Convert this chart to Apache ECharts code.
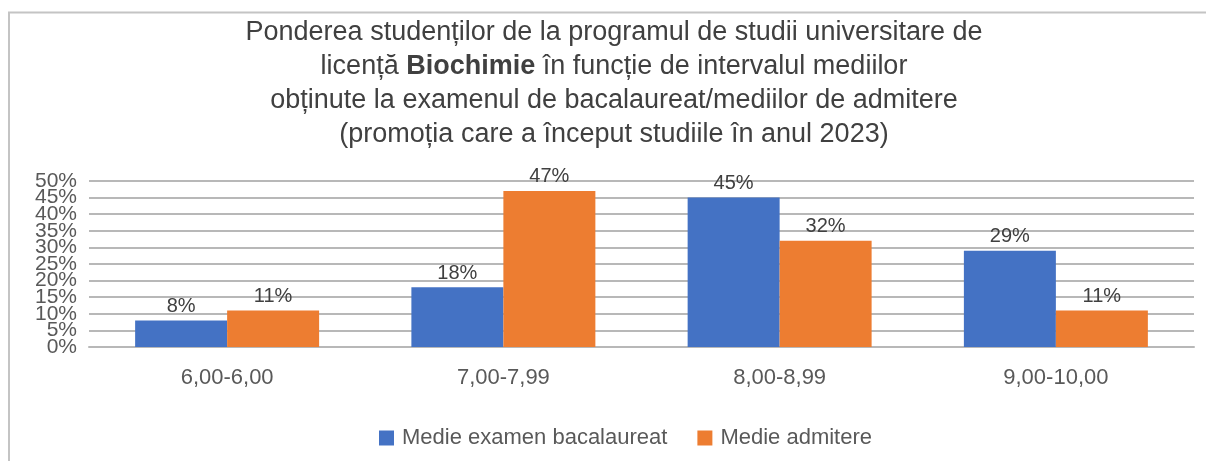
<!DOCTYPE html>
<html>
<head>
<meta charset="utf-8">
<script src="https://cdn.jsdelivr.net/npm/echarts@6/dist/echarts.min.js"></script>
<style>html,body{margin:0;padding:0;background:#fff}#c{width:1206px;height:461px}</style>
</head>
<body>
<div id="c"></div>
<script>
const categories = ['6,00-6,00', '7,00-7,99', '8,00-8,99', '9,00-10,00'];
const seriesNames = ['Medie examen bacalaureat', 'Medie admitere'];
const bacalaureat = [8, 18, 45, 29];
const admitere = [11, 47, 32, 11];
const yTicks = [0, 5, 10, 15, 20, 25, 30, 35, 40, 45, 50];

const FONT = '"Liberation Sans", "DejaVu Sans", sans-serif';
const yLabelStyle = {fontFamily: FONT, fontSize: 21, color: '#595959', margin: 12, hideOverlap: false};
const chart = echarts.init(document.getElementById('c'), null, {renderer: 'canvas'});
chart.setOption({
  backgroundColor: '#ffffff',
  animation: false,
  title: {
    left: 614,
    top: 16,
    padding: 0,
    textAlign: 'center',
    text: '{a|Ponderea studenților de la programul de studii universitare de}\n{a|licență }{b|Biochimie}{a| în funcție de intervalul mediilor}\n{a|obținute la examenul de bacalaureat/mediilor de admitere}\n{a|(promoția care a început studiile în anul 2023)}',
    textStyle: {
      rich: {
        a: {fontFamily: FONT, fontSize: 27, fontWeight: 'normal', color: '#404040', lineHeight: 34},
        b: {fontFamily: FONT, fontSize: 27, fontWeight: 'bold', color: '#404040', lineHeight: 34}
      }
    }
  },
  graphic: [
    {type: 'line', shape: {x1: 8, y1: 12.5, x2: 1206, y2: 12.5}, style: {stroke: '#c4c4c4', lineWidth: 2}},
    {type: 'line', shape: {x1: 9, y1: 12, x2: 9, y2: 461}, style: {stroke: '#c4c4c4', lineWidth: 2}}
  ],
  legend: {
    data: seriesNames,
    left: 374,
    top: 422,
    icon: 'rect',
    itemWidth: 15,
    itemHeight: 15,
    itemGap: 30,
    textStyle: {fontFamily: FONT, fontSize: 22, color: '#595959', padding: [0, 0, 0, 3]}
  },
  grid: {left: 89, right: 12, top: 181, bottom: 114, containLabel: false},
  xAxis: {
    type: 'category',
    data: categories,
    axisTick: {show: false},
    axisLine: {show: true, lineStyle: {color: '#b8b8b8', width: 2}},
    axisLabel: {fontFamily: FONT, fontSize: 22, color: '#595959', margin: 20}
  },
  yAxis: [
    {
      type: 'value',
      position: 'left',
      min: yTicks[0],
      max: yTicks[yTicks.length - 1],
      interval: 5,
      axisLine: {show: false},
      axisTick: {show: false},
      splitLine: {lineStyle: {color: '#b8b8b8', width: 2}},
      axisLabel: Object.assign({}, yLabelStyle, {
        showMinLabel: true, showMaxLabel: true,
        formatter: v => (v % 10 === 0 ? v + '%' : '')
      })
    },
    {
      type: 'value',
      position: 'left',
      offset: 0,
      min: yTicks[0],
      max: yTicks[yTicks.length - 1],
      interval: 5,
      axisLine: {show: false},
      axisTick: {show: false},
      splitLine: {show: false},
      axisLabel: Object.assign({}, yLabelStyle, {
        showMinLabel: false, showMaxLabel: false,
        formatter: v => (v % 10 === 5 ? v + '%' : '')
      })
    }
  ],
  series: [
    {
      name: seriesNames[0], type: 'bar', data: bacalaureat,
      itemStyle: {color: '#4472C4'},
      barGap: '0%', barCategoryGap: '33.4%',
      label: {show: true, position: 'top', distance: 4, formatter: p => p.value + '%', fontFamily: FONT, fontSize: 20, color: '#404040'}
    },
    {
      name: seriesNames[1], type: 'bar', data: admitere,
      itemStyle: {color: '#ED7D31'},
      barGap: '0%', barCategoryGap: '33.4%',
      label: {show: true, position: 'top', distance: 4, formatter: p => p.value + '%', fontFamily: FONT, fontSize: 20, color: '#404040'}
    }
  ]
});
</script>
</body>
</html>
